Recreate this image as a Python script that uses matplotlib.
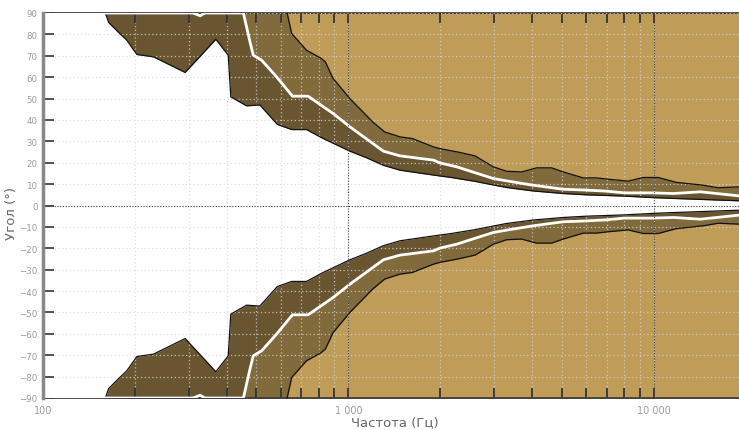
import matplotlib
matplotlib.use("Agg")
import matplotlib.pyplot as plt
from matplotlib.ticker import FixedLocator, FixedFormatter, NullFormatter
import numpy as np

# angle limits (deg) vs frequency (Hz), top half; bottom half is the mirror
freq_outer = [100, 160, 164, 176, 188, 203, 230, 292, 368, 404, 412, 464, 513, 585,
              652, 729, 827, 1011, 1147, 1301, 1475, 1993, 2148, 2570, 2980, 3300,
              4020, 5050, 6000, 8000, 9900, 11600, 19000]
angle_outer = [90, 90, 85.6, 81.2, 77.3, 70.6, 69.5, 62.2, 77.7, 70.3, 50.8, 46.6, 47.0, 37.9,
               35.5, 35.5, 31.3, 25.4, 22.3, 18.8, 16.5, 13.8, 13.2, 11.4, 9.6, 8.4,
               6.8, 5.6, 5.0, 4.4, 3.7, 3.3, 2.2]

freq_mid = [100, 310, 327, 339, 453, 476, 488, 520, 582, 656, 738, 891, 1011, 1301,
            1475, 1900, 1993, 2260, 2980, 3300, 4020, 5050, 6000, 7000, 8000, 9900,
            11600, 14200, 19000]
angle_mid = [90, 90, 88.7, 90, 90, 76.5, 70.3, 67.9, 60.1, 51.1, 51.1, 43.0, 36.8, 25.4,
             23.2, 21.2, 19.9, 18.1, 12.6, 11.5, 9.5, 7.6, 7.2, 6.7, 5.9, 5.9,
             5.6, 6.4, 4.5]

freq_inner = [630, 652, 729, 810, 840, 891, 1011, 1200, 1314, 1475, 1620, 1900, 1993,
              2318, 2597, 2980, 3297, 3690, 4131, 4625, 5050, 5875, 6490, 7180, 8240,
              9230, 10330, 11860, 14500, 16230, 19000]
angle_inner = [90, 80.4, 72.6, 69.0, 67.2, 59.4, 50.0, 39.1, 34.4, 32.1, 31.3, 27.4, 26.6,
               24.8, 23.2, 18.1, 16.0, 15.7, 17.6, 17.6, 15.7, 12.9, 12.9, 12.2, 11.4,
               13.1, 13.1, 10.8, 9.5, 8.3, 8.7]

x_major = [100, 1000, 10000]
x_major_labels = ["100", "1 000", "10 000"]
y_ticks = list(range(-90, 91, 10))

dark = "#6a5531"
medium = "#816a3b"
gold = "#bf9c57"

fig = plt.figure(figsize=(7.39, 4.31), dpi=100)
ax = fig.add_axes([43 / 739, 1 - 399 / 431, 1 - 43 / 739, 385 / 431])

for s in (1, -1):
    o = s * np.array(angle_outer)
    m = s * np.array(angle_mid)
    i = s * np.array(angle_inner)
    ax.fill_between(freq_outer, o, s * 90, color=dark, lw=0, zorder=1)
    ax.fill_between(freq_mid, m, s * 90, color=medium, lw=0, zorder=1.1)
    ax.fill_between(freq_inner, i, s * 90, color=gold, lw=0, zorder=1.2)
    ax.plot(freq_outer, o, color="#111111", lw=0.9, zorder=3)
    ax.plot(freq_inner, i, color="#111111", lw=0.9, zorder=3)
    ax.plot(freq_mid, m, color="white", lw=2, zorder=4)

ax.set_xscale("log")
ax.set_xlim(100, 19000)
ax.set_ylim(-90, 90)

ax.xaxis.set_major_locator(FixedLocator(x_major))
ax.xaxis.set_major_formatter(FixedFormatter(x_major_labels))
minors = [m * 10 ** d for d in (2, 3, 4) for m in range(2, 10)]
ax.xaxis.set_minor_locator(FixedLocator(minors))
ax.xaxis.set_minor_formatter(NullFormatter())
ax.set_yticks(y_ticks)

ax.grid(True, which="both", color="#d8d8d8", ls=(0, (1, 2)), lw=0.9, alpha=0.8, zorder=2)
ax.set_axisbelow(False)
for v in (1000, 10000):
    ax.axvline(v, color="#444444", ls=(0, (1, 1.5)), lw=0.8, zorder=5)
ax.axhline(0, color="#444444", ls=(0, (1, 1.5)), lw=0.8, zorder=5)

ax.tick_params(axis="x", which="both", direction="in", top=True, bottom=True,
               length=7, width=1.3, color="#333333", labelsize=7, labelcolor="#9a9a9a", pad=5)
ax.tick_params(axis="y", which="both", direction="in", left=True, right=False,
               length=8, width=1.3, color="#444444", labelsize=6.2, labelcolor="#9a9a9a", pad=4)

ax.spines["right"].set_visible(False)
ax.spines["left"].set_color("#888888")
ax.spines["left"].set_linewidth(2.5)
ax.spines["left"].set_zorder(6)
for sp in ("top", "bottom"):
    ax.spines[sp].set_color("#333333")
    ax.spines[sp].set_linewidth(1.2)

fig.text(395 / 739, 1 - 423 / 431, "Частота (Гц)", fontsize=9.5, color="#666666",
         ha="center", va="center")
fig.text(12 / 739, 1 - 214 / 431, "Угол (°)", fontsize=9.5, color="#666666",
         ha="center", va="center", rotation=90)

fig.savefig("out.png", dpi=100)
